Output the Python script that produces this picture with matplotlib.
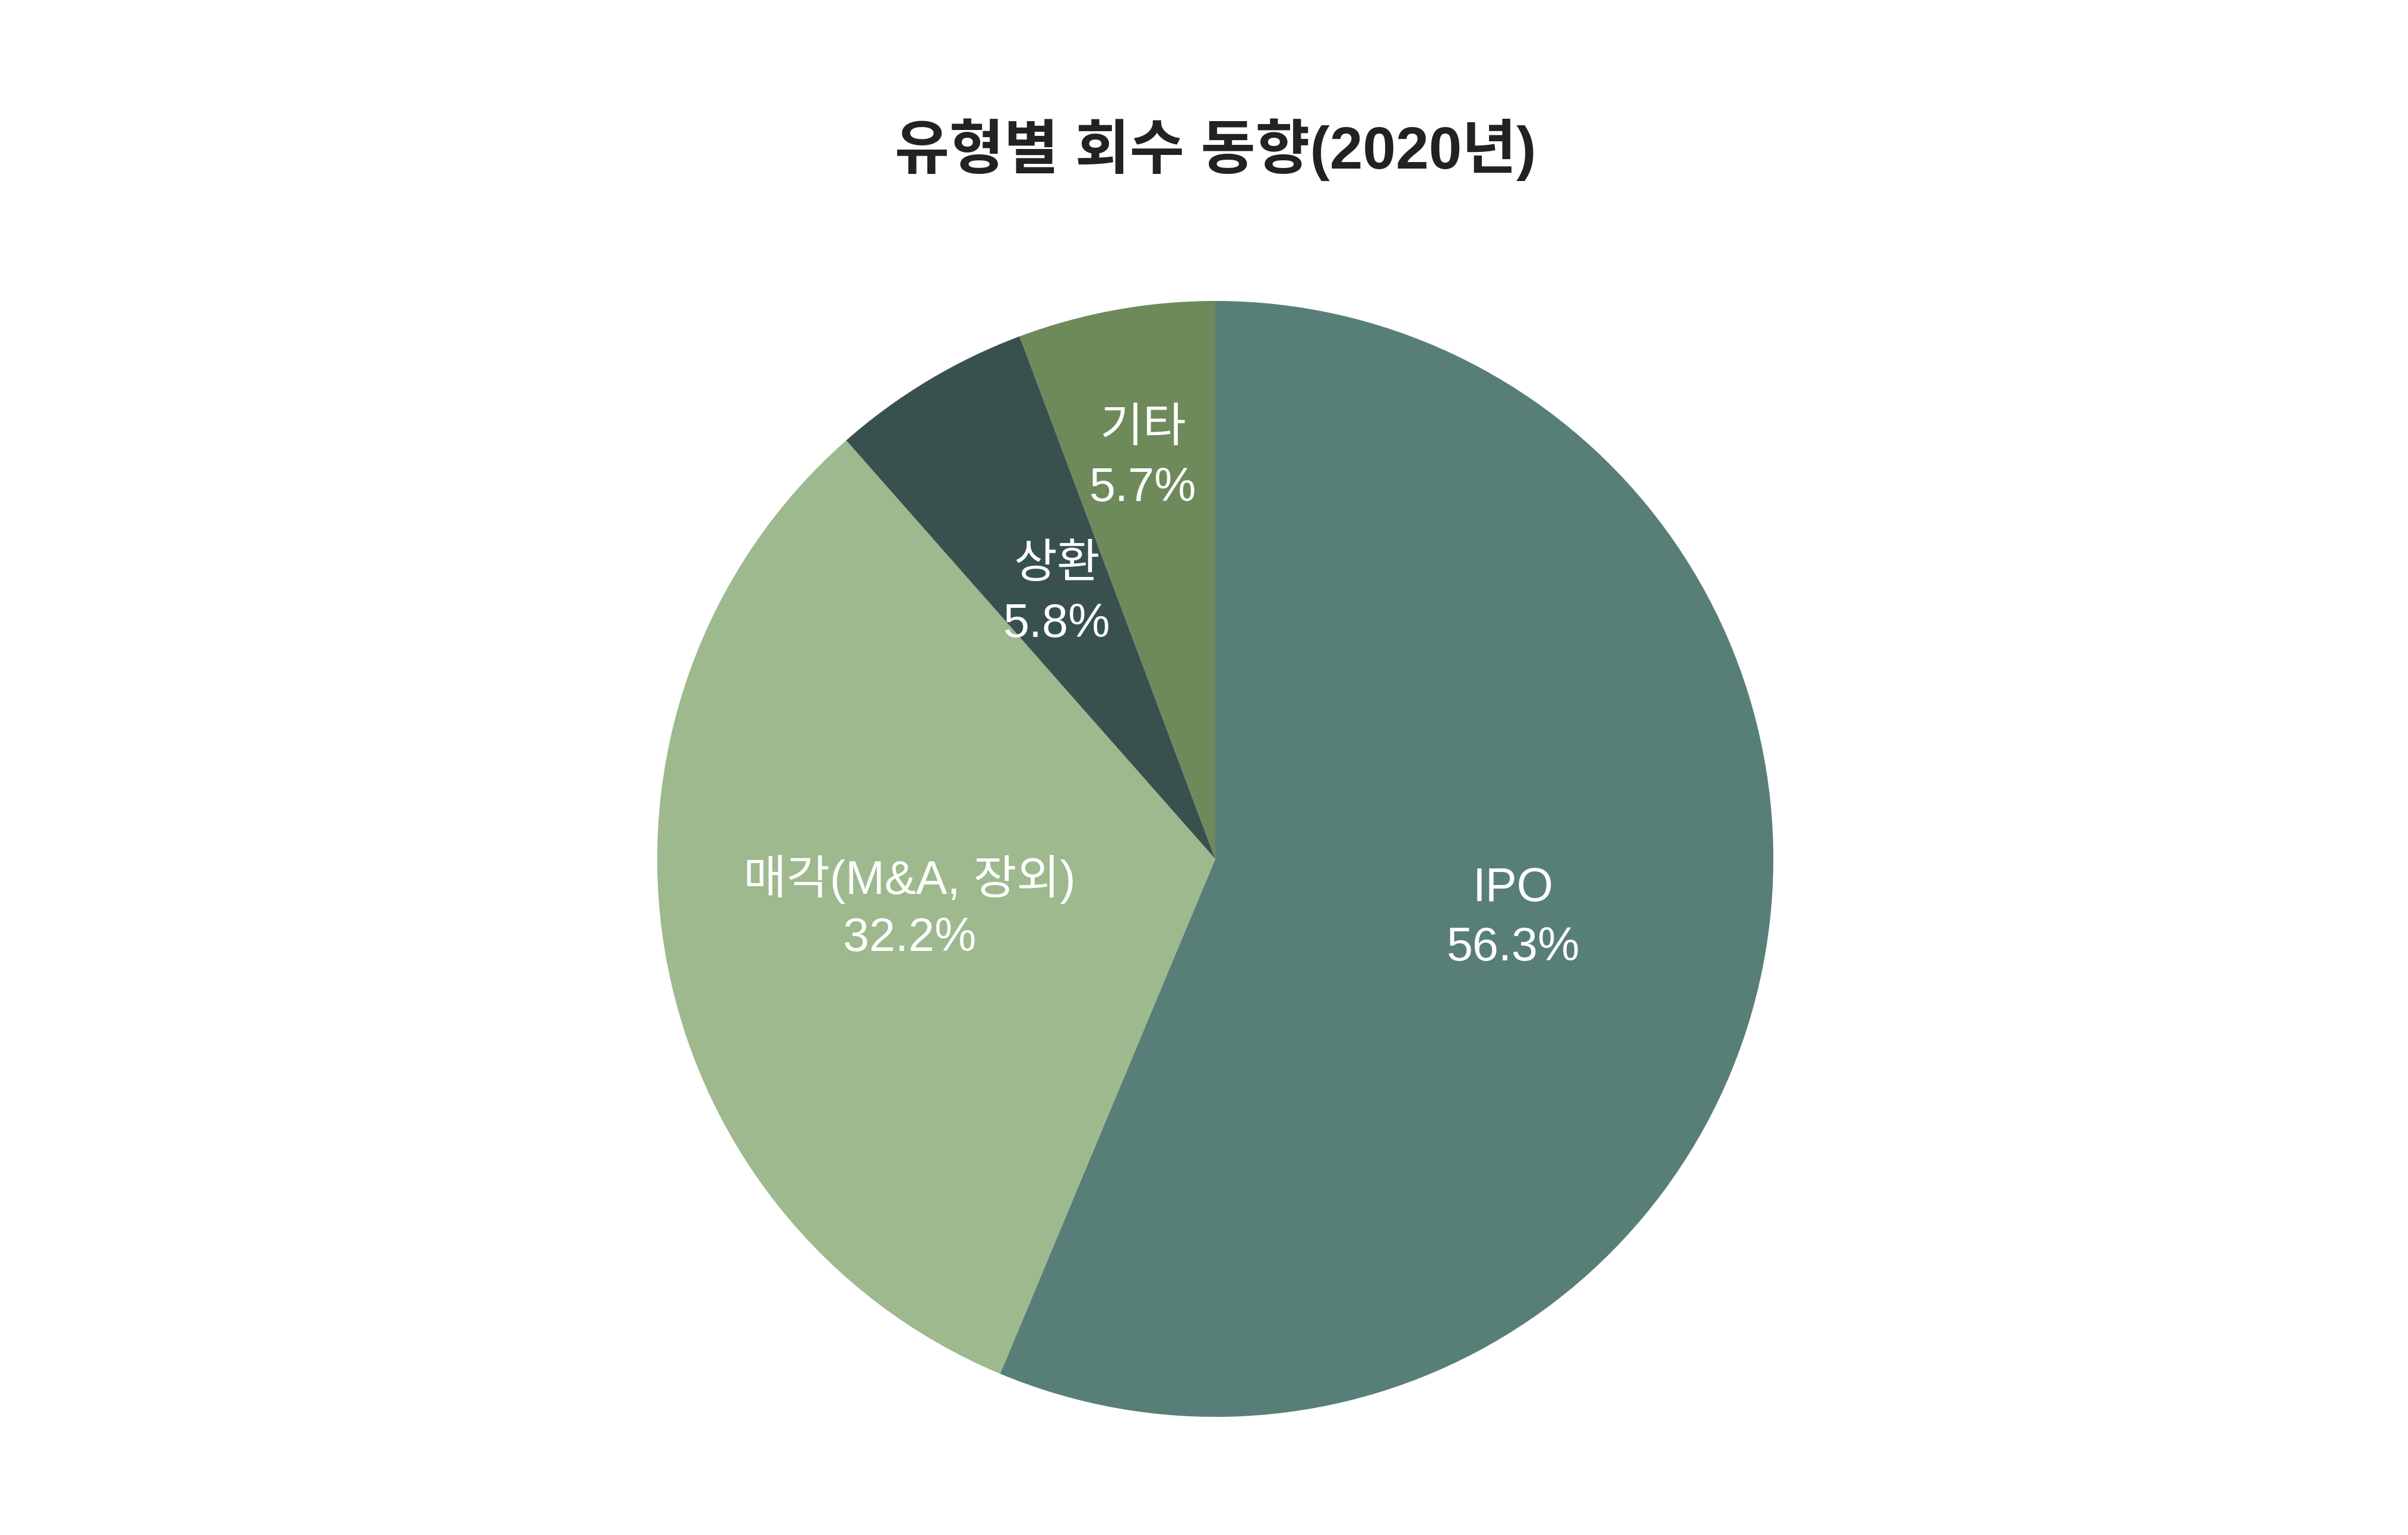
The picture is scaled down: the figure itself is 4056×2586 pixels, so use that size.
import numpy as np
import matplotlib
matplotlib.use('Agg')
import matplotlib.pyplot as plt

plt.rcParams['font.family'] = ['Liberation Sans', 'Noto Sans CJK KR', 'DejaVu Sans']

# data
labels = ['IPO', '매각(M&A, 장외)', '상환', '기타']
values = [56.3, 32.2, 5.8, 5.7]
colors = ['#587f77', '#9db98d', '#38514e', '#6e8a5b']
title = '유형별 회수 동향(2020년)'

# figure in pixel units
W, H = 4056, 2586
fig = plt.figure(figsize=(W / 100, H / 100), dpi=100)
ax = fig.add_axes([0, 0, 1, 1])

cx, cy, r = 2047, H - 1447, 940
wedges, _ = ax.pie(values, colors=colors, startangle=90, counterclock=False,
                   center=(cx, cy), radius=r,
                   wedgeprops=dict(linewidth=0))
ax.set_xlim(0, W)
ax.set_ylim(0, H)
ax.set_aspect('equal')
ax.axis('off')

# labels inside the slices
label_r = [0.545, 0.555, 0.552, 0.728]
for w, lab, v, lr in zip(wedges, labels, values, label_r):
    ang = np.deg2rad((w.theta1 + w.theta2) / 2)
    x = cx + lr * r * np.cos(ang)
    y = cy + lr * r * np.sin(ang)
    ax.text(x, y + 50, lab, ha='center', va='center', color='white', fontsize=57)
    ax.text(x, y - 50, f'{v:.1f}%', ha='center', va='center', color='white', fontsize=57)

ax.text(2047, H - 252, title, ha='center', va='center',
        fontsize=72, fontweight='bold', color='#222222')

fig.savefig('out.png', dpi=100, facecolor='white')
